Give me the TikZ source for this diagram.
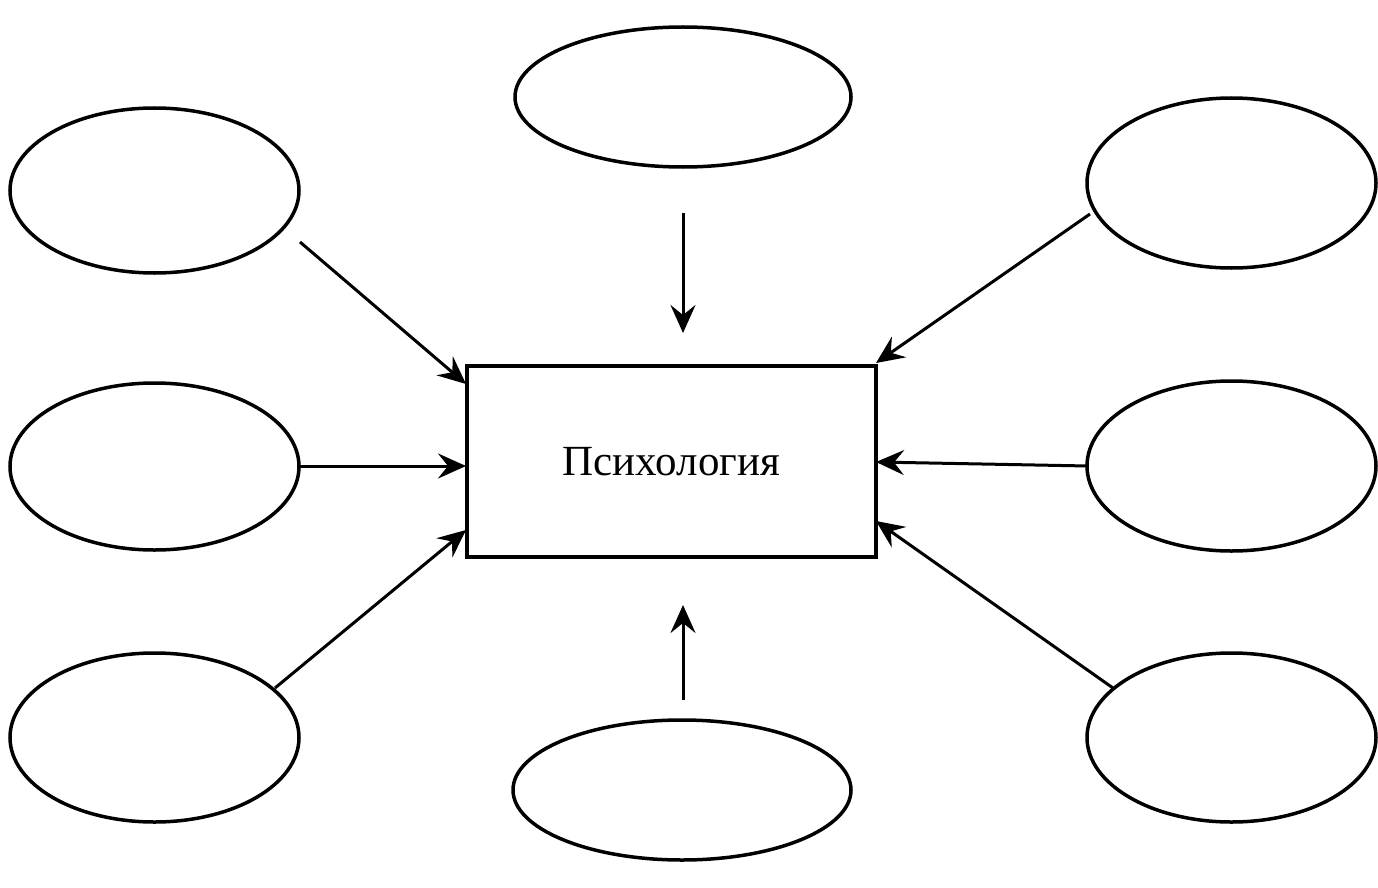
\documentclass[tikz,border=0pt]{standalone}
\usepackage{fontspec}
\setmainfont{Liberation Serif}
\usetikzlibrary{shapes.geometric,arrows.meta}
\begin{document}
\begin{tikzpicture}[x=1pt,y=-1pt,
  oval/.style={draw,ellipse,line width=3.5pt,inner sep=0pt},
  centre/.style={draw,rectangle,line width=4.5pt,inner sep=0pt,font=\fontsize{43}{50}\selectfont},
  link/.style={line width=3pt,-{Stealth[length=28pt,width=25pt,inset=10pt]}}]
\useasboundingbox (0,0) rectangle (1378,888);
\node[centre,minimum width=409pt,minimum height=191pt] (c) at (671.5,461.5) {Психология};
\node[oval,minimum width=336pt,minimum height=140pt] (tc) at (683,97) {};
\node[oval,minimum width=338pt,minimum height=140pt] (bc) at (682,790) {};
\node[oval,minimum width=289pt,minimum height=165pt] (tl) at (154.5,190.5) {};
\node[oval,minimum width=289pt,minimum height=167pt] (ml) at (154.5,466.5) {};
\node[oval,minimum width=289pt,minimum height=169pt] (bl) at (154.5,737.5) {};
\node[oval,minimum width=289pt,minimum height=170pt] (tr) at (1231.5,183) {};
\node[oval,minimum width=289pt,minimum height=170pt] (mr) at (1231.5,466) {};
\node[oval,minimum width=289pt,minimum height=169pt] (br) at (1231.5,737.5) {};
\coordinate (tcs) at (683,213); \coordinate (tce) at (683,333);
\coordinate (bcs) at (683,700); \coordinate (bce) at (683,605);
\coordinate (tls) at (300,242); \coordinate (tle) at (466,384);
\coordinate (mls) at (300,466); \coordinate (mle) at (466,466);
\coordinate (bls) at (275,688); \coordinate (ble) at (466,530);
\coordinate (trs) at (1090,214); \coordinate (tre) at (876,363);
\coordinate (mrs) at (1088,466); \coordinate (mre) at (876,462);
\coordinate (brs) at (1113,688); \coordinate (bre) at (876,521);
\draw[link] (tcs) -- (tce);
\draw[link] (bcs) -- (bce);
\draw[link] (tls) -- (tle);
\draw[link] (mls) -- (mle);
\draw[link] (bls) -- (ble);
\draw[link] (trs) -- (tre);
\draw[link] (mrs) -- (mre);
\draw[link] (brs) -- (bre);
\end{tikzpicture}
\end{document}
